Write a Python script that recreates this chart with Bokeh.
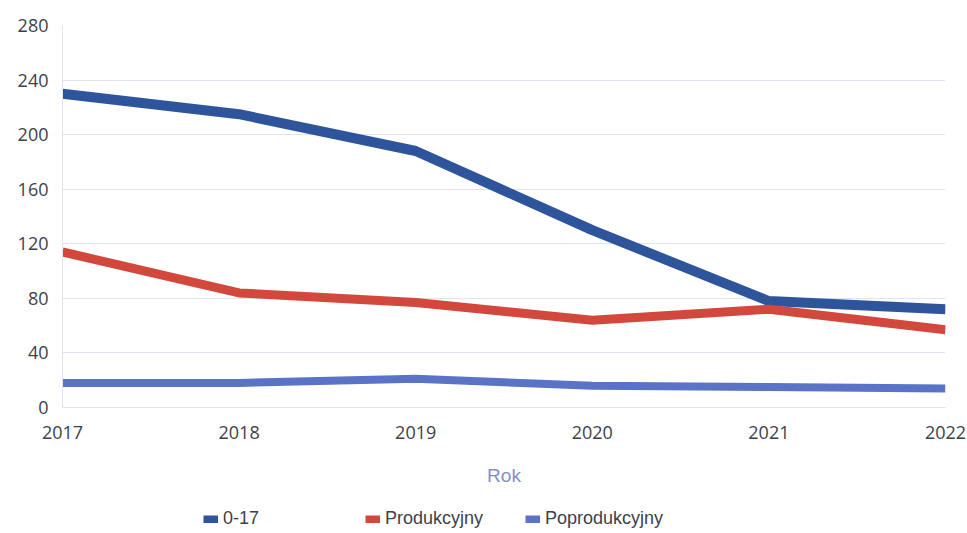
from bokeh.plotting import figure
from bokeh.layouts import column
from bokeh.models import Legend, LegendItem, Range1d, FixedTicker
from bokeh.embed import file_html
from bokeh.resources import INLINE

years = [2017, 2018, 2019, 2020, 2021, 2022]
kids = [230, 215, 188, 130, 78, 72]
produkcyjny = [114, 84, 77, 64, 72, 57]
poprodukcyjny = [18, 18, 21, 16, 15, 14]
y_ticks = [0, 40, 80, 120, 160, 200, 240, 280]
series_names = ["0-17", "Produkcyjny", "Poprodukcyjny"]

C_DARK = "#2e559c"
C_RED = "#d3483c"
C_LIGHT = "#5a73c6"
GRID = "#dfe4ef"
TXT = "#3c3f4c"

p = figure(width=967, height=495, output_backend="svg", toolbar_location=None,
           x_range=Range1d(2017, 2022), y_range=Range1d(0, 280),
           min_border_left=62, min_border_right=22, min_border_top=25, min_border_bottom=88)
p.frame_width = 883
p.frame_height = 382
p.outline_line_color = None
p.background_fill_color = "white"
p.border_fill_color = "white"

r1 = p.line(years, kids, line_color=C_DARK, line_width=10, line_join="round")
r2 = p.line(years, produkcyjny, line_color=C_RED, line_width=9, line_join="round")
r3 = p.line(years, poprodukcyjny, line_color=C_LIGHT, line_width=8, line_join="round")

p.xaxis.ticker = FixedTicker(ticks=years)
p.yaxis.ticker = FixedTicker(ticks=y_ticks)
for ax in (p.xaxis, p.yaxis):
    ax.axis_line_color = GRID
    ax.major_tick_line_color = None
    ax.minor_tick_line_color = None
    ax.major_label_text_color = TXT
    ax.major_label_text_font = "Open Sans"
    ax.major_label_text_font_size = "18px"
p.yaxis.major_label_standoff = 8
p.xaxis.major_label_standoff = 12
p.xaxis.axis_label = "Rok"
p.xaxis.axis_label_text_font = "Liberation Sans"
p.xaxis.axis_label_text_font_size = "19px"
p.xaxis.axis_label_text_font_style = "normal"
p.xaxis.axis_label_text_color = "#7f8fcc"
p.xaxis.axis_label_standoff = 23
p.xgrid.grid_line_color = None
p.ygrid.grid_line_color = GRID

# legend strip (its frame is aligned with the main frame, which starts at x=62)
lf = figure(width=967, height=38, output_backend="svg", toolbar_location=None,
            x_range=Range1d(0, 1), y_range=Range1d(0, 1),
            min_border_left=62, min_border_right=22, min_border_top=0, min_border_bottom=0)
lf.frame_width = 883
lf.axis.visible = False
lf.grid.visible = False
lf.outline_line_color = None
lf.background_fill_color = "white"
lf.border_fill_color = "white"

colors = [C_DARK, C_RED, C_LIGHT]
series = [kids, produkcyjny, poprodukcyjny]
xlocs = [141, 303, 463]
for name, col, vals, xloc in zip(series_names, colors, series, xlocs):
    # same data, far outside this strip's range: only its legend swatch shows
    rr = lf.line(years, vals, line_color=col, line_width=8, line_cap="butt")
    lg = Legend(items=[LegendItem(label=name, renderers=[rr])], location=(xloc, 4),
                orientation="horizontal", padding=0, margin=0, spacing=0,
                glyph_width=15, glyph_height=8, label_standoff=5,
                label_text_font="Liberation Sans", label_text_font_size="18px",
                label_text_color=TXT, background_fill_alpha=0, border_line_alpha=0)
    lf.add_layout(lg, "center")

layout = column(p, lf, spacing=0)
html = file_html(layout, INLINE)
open("out.html", "w").write(html)
